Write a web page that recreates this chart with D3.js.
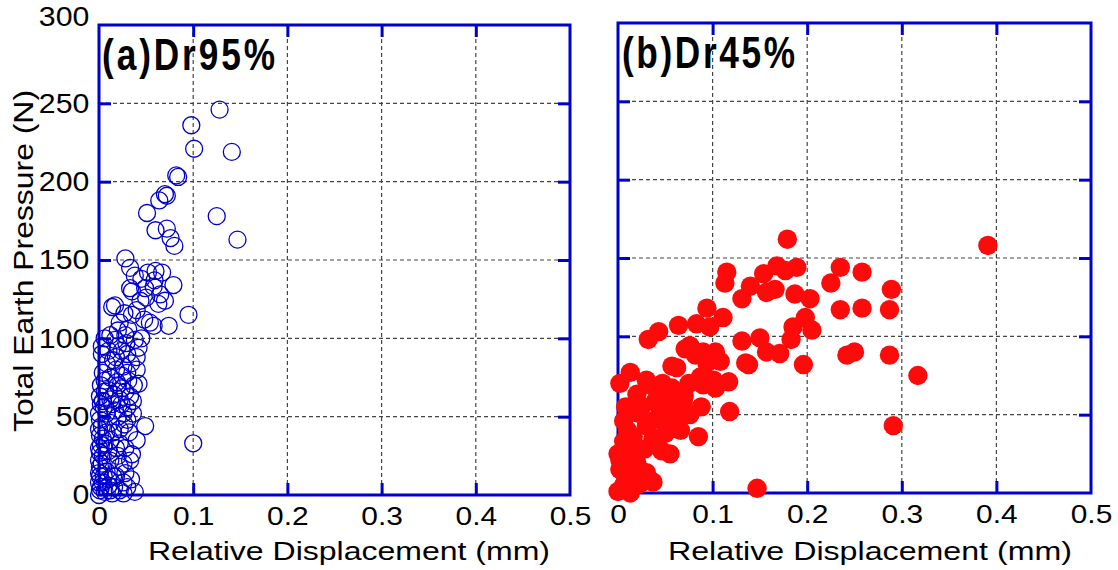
<!DOCTYPE html>
<html>
<head>
<meta charset="utf-8">
<script src="https://cdn.jsdelivr.net/npm/d3@7"></script>
<style>
  body { margin: 0; background: #fff; }
  text { font-family: "Liberation Sans", Arial, sans-serif; }
</style>
</head>
<body>
<svg id="chart" width="1118" height="570"></svg>
<script>
// Axis ticks shared by both panels
const xTicks = [0, 0.1, 0.2, 0.3, 0.4, 0.5];
const yTicks = [0, 50, 100, 150, 200, 250, 300];

// (a) Dr 95% — relative displacement (mm) and total earth pressure (N)
const dispA = [
  0.128, 0.098, 0.101, 0.141, 0.084, 0.082, 0.070, 0.072, 0.064, 0.051,
  0.125, 0.060, 0.072, 0.076, 0.080, 0.147, 0.028, 0.033, 0.052, 0.067,
  0.059, 0.079, 0.033, 0.035, 0.049, 0.058, 0.070, 0.063, 0.014, 0.017,
  0.044, 0.095, 0.035, 0.054, 0.058, 0.074, 0.022, 0.031, 0.028, 0.006,
  0.017, 0.038, 0.003, 0.029, 0.042, 0.040, 0.015, 0.026, 0.040, 0.006,
  0.019, 0.031, 0.042, 0.024, 0.037, 0.001, 0.012, 0.022, 0.033, 0.005,
  0.017, 0.026, 0.049, 0.001, 0.012, 0.022, 0.100, 0.040, 0.001, 0.012,
  0.022, 0.035, 0.033, 0.001, 0.012, 0.022, 0.001, 0.001, 0.015, 0.026,
  0.038, 0.001, 0.012, 0.022, 0.000, 0.003, 0.010, 0.020, 0.030, 0.008,
  0.018, 0.030, 0.004, 0.012, 0.025, 0.034, 0.002, 0.010, 0.016, 0.028,
  0.036, 0.004, 0.008, 0.020, 0.030, 0.003, 0.015, 0.027, 0.032, 0.006,
  0.018, 0.028, 0.004, 0.010, 0.020, 0.026, 0.003, 0.008, 0.018, 0.028,
  0.004, 0.010, 0.016, 0.030, 0.002, 0.006, 0.014, 0.026, 0.034, 0.018,
  0.024, 0.012, 0.020, 0.045, 0.048, 0.040, 0.027, 0.050, 0.045, 0.038,
  0.065, 0.060, 0.008, 0.002, 0.014, 0.024, 0.006, 0.020, 0.030, 0.036,
  0.010, 0.000, 0.000, 0.000, 0.000, 0.000, 0.002, 0.000, 0.005, 0.004
];
const pressA = [
  246, 236, 221, 219, 203, 204, 192, 191, 188, 180,
  178, 169, 170, 164, 159, 163, 151, 145, 142, 142,
  137, 134, 132, 130, 132, 133, 124, 122, 120, 121,
  124, 115, 115, 110, 108, 108, 110, 106, 102, 100,
  99, 99, 95, 97, 94, 88, 86, 82, 80, 73,
  72, 73, 71, 68, 70, 63, 61, 61, 63, 56,
  54, 52, 44, 48, 46, 42, 33, 35, 38, 35,
  33, 26, 22, 27, 22, 18, 18, 12, 12, 8,
  2, 3, 3, 3, 0, 90, 92, 95, 90, 84,
  80, 78, 78, 75, 76, 84, 70, 67, 64, 66,
  60, 60, 52, 50, 56, 44, 40, 45, 40, 33,
  30, 30, 25, 28, 25, 20, 20, 15, 12, 14,
  8, 6, 5, 5, 5, 2, 1, 1, 10, 88,
  92, 102, 105, 100, 112, 118, 116, 126, 138, 140,
  128, 143, 40, 32, 58, 58, 66, 70, 48, 52,
  10, 14, 22, 30, 42, 52, 58, 8, 12, 36
];

// (b) Dr 45% — relative displacement (mm) and total earth pressure (N)
const dispB = [
  0.179, 0.115, 0.113, 0.154, 0.168, 0.177, 0.189, 0.235, 0.258, 0.225,
  0.289, 0.140, 0.131, 0.157, 0.166, 0.187, 0.203, 0.235, 0.258, 0.287,
  0.094, 0.111, 0.083, 0.064, 0.097, 0.043, 0.032, 0.198, 0.205, 0.185,
  0.183, 0.131, 0.150, 0.157, 0.171, 0.138, 0.135, 0.196, 0.242, 0.250,
  0.287, 0.317, 0.291, 0.147, 0.118, 0.071, 0.076, 0.062, 0.057, 0.094,
  0.108, 0.103, 0.087, 0.101, 0.117, 0.090, 0.103, 0.013, 0.002, 0.020,
  0.037, 0.057, 0.069, 0.050, 0.039, 0.088, 0.076, 0.021, 0.006, 0.030,
  0.051, 0.066, 0.085, 0.016, 0.006, 0.037, 0.046, 0.055, 0.013, 0.002,
  0.020, 0.002, 0.013, 0.030, 0.037, 0.000, 0.013, 0.006, 0.023, 0.000,
  0.391, 0.025, 0.045, 0.060, 0.040, 0.010, 0.028, 0.050, 0.055, 0.075,
  0.082, 0.090, 0.030, 0.047, 0.008, 0.018, 0.060, 0.070
];
const pressB = [
  162, 141, 134, 140, 145, 142, 144, 144, 141, 134,
  130, 132, 124, 128, 130, 127, 124, 117, 118, 117,
  118, 112, 108, 107, 106, 103, 98, 112, 104, 106,
  98, 97, 99, 90, 89, 82, 83, 82, 88, 90,
  88, 75, 43, 3, 52, 92, 94, 80, 81, 83,
  84, 90, 74, 72, 71, 69, 67, 77, 70, 63,
  68, 67, 59, 59, 58, 55, 50, 51, 46, 43,
  45, 40, 36, 36, 33, 35, 27, 25, 25, 21,
  19, 15, 13, 13, 7, 1, 0, 5, 6, 25,
  158, 55, 52, 56, 47, 40, 28, 38, 65, 70,
  88, 90, 72, 70, 55, 30, 48, 62
];

const BLUE = "#0000cc";
const svg = d3.select("#chart");

const panels = [
  { title: "(a)Dr95%", box: { l: 99, r: 570, t: 25, b: 495 }, xs: dispA, ys: pressA,
    filled: false, yLabels: true, titleX: 102, titleY: 70, xTitleX: 148, xTitleW: 402 },
  { title: "(b)Dr45%", box: { l: 618, r: 1091, t: 23, b: 493 }, xs: dispB, ys: pressB,
    filled: true, yLabels: false, titleX: 622, titleY: 68, xTitleX: 668, xTitleW: 404 }
];

panels.forEach(p => {
  const { l, r, t, b } = p.box;
  const x = d3.scaleLinear().domain([0, 0.5]).range([l, r]);
  const y = d3.scaleLinear().domain([0, 300]).range([b, t]);
  const g = svg.append("g");

  // dashed grid
  g.append("g").selectAll("line.vx")
    .data(xTicks.slice(1, -1)).join("line")
    .attr("x1", d => x(d)).attr("x2", d => x(d))
    .attr("y1", t).attr("y2", b)
    .attr("stroke", "#444").attr("stroke-width", 1.2).attr("stroke-dasharray", "4,3");
  g.append("g").selectAll("line.hy")
    .data(yTicks.slice(1, -1)).join("line")
    .attr("x1", l).attr("x2", r)
    .attr("y1", d => y(d)).attr("y2", d => y(d))
    .attr("stroke", "#444").attr("stroke-width", 1.2).attr("stroke-dasharray", "4,3");

  // inward ticks on all four sides
  const styleAxis = sel => {
    sel.select(".domain").remove();
    sel.selectAll(".tick line").attr("stroke", BLUE).attr("stroke-width", 3);
    sel.selectAll(".tick text").attr("fill", "#000");
  };
  const tickVals = xTicks.slice(1, -1);
  const ytickVals = yTicks.slice(1, -1);

  const bottom = g.append("g").attr("transform", `translate(0,${b})`)
    .call(d3.axisBottom(x).tickValues(xTicks).tickSizeInner(-12).tickSizeOuter(0).tickPadding(12)
      .tickFormat(d => d === 0 ? "0" : d3.format(".1f")(d)));
  styleAxis(bottom);
  bottom.selectAll(".tick text").attr("font-size", 26).attr("transform", "scale(1.15,1)");
  bottom.selectAll(".tick line").filter(d => d === 0 || d === 0.5).remove();

  const top = g.append("g").attr("transform", `translate(0,${t})`)
    .call(d3.axisTop(x).tickValues(tickVals).tickSizeInner(-12).tickSizeOuter(0).tickFormat(""));
  styleAxis(top);

  const left = g.append("g").attr("transform", `translate(${l},0)`)
    .call(d3.axisLeft(y).tickValues(p.yLabels ? yTicks : ytickVals).tickSizeInner(-12).tickSizeOuter(0).tickPadding(9)
      .tickFormat(p.yLabels ? d3.format("d") : ""));
  styleAxis(left);
  left.selectAll(".tick line").filter(d => d === 0 || d === 300).remove();
  left.selectAll(".tick text").attr("font-size", 28).attr("transform", "scale(1.08,1)")
    .attr("dy", d => d === 300 ? "-0.0em" : "0.32em");

  const right = g.append("g").attr("transform", `translate(${r},0)`)
    .call(d3.axisRight(y).tickValues(ytickVals).tickSizeInner(-12).tickSizeOuter(0).tickFormat(""));
  styleAxis(right);

  // frame
  g.append("rect").attr("x", l).attr("y", t).attr("width", r - l).attr("height", b - t)
    .attr("fill", "none").attr("stroke", BLUE).attr("stroke-width", 3);

  // panel title: narrowed glyphs, spread across a fixed width
  g.append("text")
    .attr("transform", `translate(${p.titleX},${p.titleY}) scale(0.8,1)`)
    .attr("font-size", 44).attr("font-weight", "bold")
    .attr("textLength", 173 / 0.8).attr("lengthAdjust", "spacing")
    .text(p.title);

  // x-axis title
  g.append("text").attr("x", p.xTitleX).attr("y", 560)
    .attr("font-size", 26).attr("textLength", p.xTitleW).attr("lengthAdjust", "spacingAndGlyphs")
    .text("Relative Displacement (mm)");

  // data points
  const pts = d3.range(p.xs.length);
  g.append("g").selectAll("circle").data(pts).join("circle")
    .attr("cx", i => x(p.xs[i])).attr("cy", i => y(p.ys[i]))
    .attr("r", p.filled ? 9.7 : 8.5)
    .attr("fill", p.filled ? "#ff0a0a" : "none")
    .attr("stroke", p.filled ? "none" : BLUE)
    .attr("stroke-width", 1.3);
});

// y-axis title
svg.append("text")
  .attr("transform", "translate(33,261) rotate(-90)")
  .attr("text-anchor", "middle")
  .attr("font-size", 27).attr("textLength", 342).attr("lengthAdjust", "spacingAndGlyphs")
  .text("Total Earth Pressure (N)");
</script>
</body>
</html>
